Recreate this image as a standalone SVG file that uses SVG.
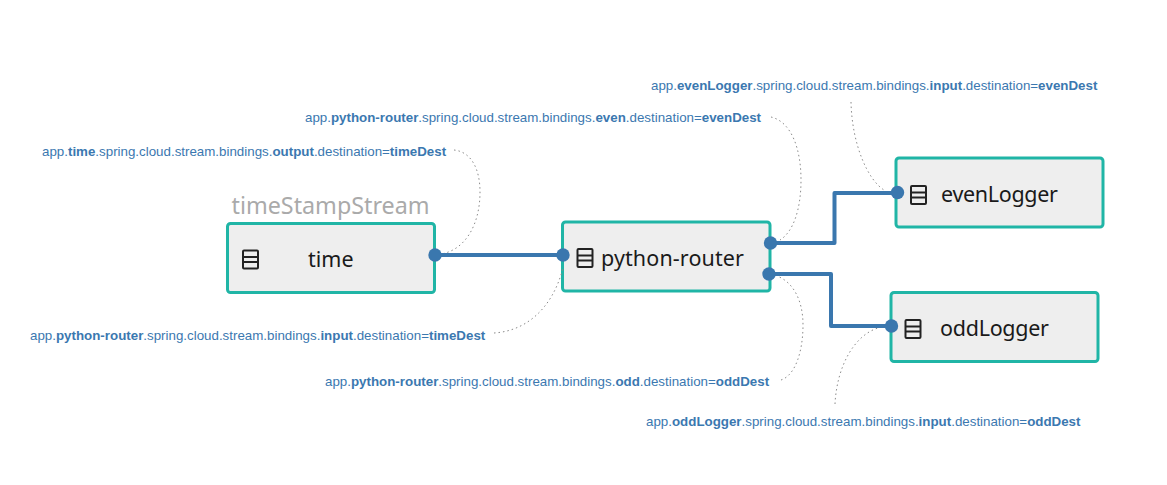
<svg xmlns="http://www.w3.org/2000/svg" width="1167" height="485" viewBox="0 0 1167 485">
<style>
.node{fill:#eeeeee;stroke:#20b5a6;stroke-width:3}
.label{font-family:"Noto Sans","Open Sans",sans-serif;font-size:21.5px;fill:#1a1a1a}
.group{font-family:"Noto Sans","Open Sans",sans-serif;font-size:23.300px;fill:#aaaaaa}
.prop{font-family:"Liberation Sans",Arial,sans-serif;font-size:13.330px;fill:#3b78b0}
.prop tspan{font-weight:bold}
.wire{fill:none;stroke:#3a77ae;stroke-width:4;stroke-linejoin:round}
.dot{fill:none;stroke:#8a8a8a;stroke-width:1;stroke-dasharray:1.5 3}
.port{fill:#3a77ae}
.ico{fill:none;stroke:#222;stroke-width:2}
</style>
<defs>
<g id="icon"><rect class="ico" x="0" y="0" width="15" height="18" rx="1"/><path class="ico" d="M0 6.500H15M0 11.500H15"/></g>
</defs>
<rect width="1167" height="485" fill="#ffffff"/>
<text class="group" x="231.500" y="214">timeStampStream</text>
<g id="node-time">
<rect class="node" x="227.500" y="223.500" width="207" height="69" rx="3"/>
<use href="#icon" x="243" y="250.500"/>
<text class="label" x="308" y="267">time</text>
</g>
<g id="node-python-router">
<rect class="node" x="562.500" y="222" width="207.500" height="69" rx="3"/>
<use href="#icon" x="577.500" y="249"/>
<text class="label" x="601" y="265.500" textLength="143">python-router</text>
</g>
<g id="node-evenLogger">
<rect class="node" x="896" y="158" width="207" height="69" rx="3"/>
<use href="#icon" x="911" y="186"/>
<text class="label" x="941" y="201.500" textLength="117">evenLogger</text>
</g>
<g id="node-oddLogger">
<rect class="node" x="891" y="292.500" width="207" height="69" rx="3"/>
<use href="#icon" x="905.500" y="320"/>
<text class="label" x="940" y="336" textLength="109">oddLogger</text>
</g>
<g id="connectors">
<path class="dot" d="M454 150C472 152 480 170 480 192C480 225 465 250 441 254"/>
<path class="dot" d="M494 333C525 331 552 310 563 268"/>
<path class="dot" d="M771 117C792 122 801 150 801 180C801 210 793 232 780 240"/>
<path class="dot" d="M851 102C852 145 868 180 884 190"/>
<path class="dot" d="M781 380C796 375 803 350 803 325C803 300 793 282 777 276"/>
<path class="dot" d="M835 404C837 365 855 335 878 328"/>
<path class="wire" d="M435 255H563"/>
<path class="wire" d="M770 243H834.500V193H898"/>
<path class="wire" d="M769 274H831V326H892"/>
<circle class="port" cx="435" cy="255" r="6.700"/>
<circle class="port" cx="563" cy="255" r="6.700"/>
<circle class="port" cx="770.500" cy="243" r="6.700"/>
<circle class="port" cx="769" cy="274" r="6.700"/>
<circle class="port" cx="897.500" cy="192.500" r="6.700"/>
<circle class="port" cx="891.500" cy="326" r="6.700"/>
</g>
<text class="prop" x="651" y="90">app.<tspan>evenLogger</tspan>.spring.cloud.stream.bindings.<tspan>input</tspan>.destination=<tspan>evenDest</tspan></text>
<text class="prop" x="305" y="122">app.<tspan>python-router</tspan>.spring.cloud.stream.bindings.<tspan>even</tspan>.destination=<tspan>evenDest</tspan></text>
<text class="prop" x="42" y="156">app.<tspan>time</tspan>.spring.cloud.stream.bindings.<tspan>output</tspan>.destination=<tspan>timeDest</tspan></text>
<text class="prop" x="30" y="340">app.<tspan>python-router</tspan>.spring.cloud.stream.bindings.<tspan>input</tspan>.destination=<tspan>timeDest</tspan></text>
<text class="prop" x="325" y="386">app.<tspan>python-router</tspan>.spring.cloud.stream.bindings.<tspan>odd</tspan>.destination=<tspan>oddDest</tspan></text>
<text class="prop" x="646" y="426">app.<tspan>oddLogger</tspan>.spring.cloud.stream.bindings.<tspan>input</tspan>.destination=<tspan>oddDest</tspan></text>
</svg>
